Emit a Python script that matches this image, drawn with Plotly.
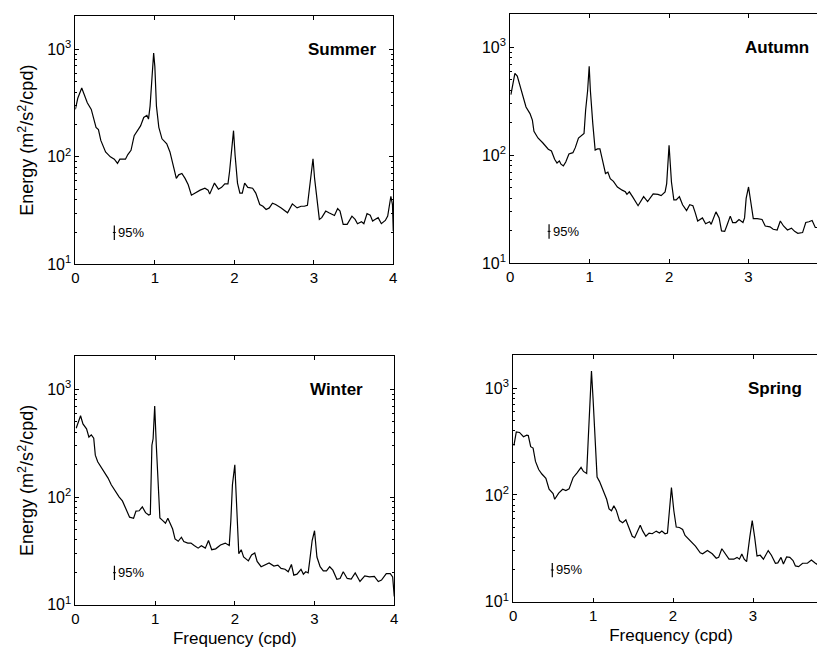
import plotly.graph_objects as go

# ---------------- data ----------------
summer_f = [0.00, 0.03, 0.08, 0.12, 0.15, 0.20, 0.26, 0.29, 0.32, 0.38,
            0.44, 0.49, 0.53, 0.56, 0.61, 0.63, 0.66, 0.70, 0.74, 0.78,
            0.82, 0.86, 0.90, 0.92, 0.94, 0.965, 0.985, 1.00, 1.02, 1.05,
            1.09, 1.15, 1.19, 1.24, 1.27, 1.30, 1.34, 1.38, 1.42, 1.46,
            1.50, 1.57, 1.63, 1.67, 1.69, 1.75, 1.80, 1.84, 1.88, 1.92,
            1.94, 1.96, 1.99, 2.01, 2.04, 2.07, 2.10, 2.13, 2.17, 2.23,
            2.27, 2.32, 2.36, 2.40, 2.44, 2.48, 2.52, 2.59, 2.63, 2.67,
            2.73, 2.76, 2.79, 2.84, 2.88, 2.92, 2.94, 2.96, 2.99, 3.01,
            3.04, 3.07, 3.10, 3.15, 3.19, 3.23, 3.26, 3.30, 3.33, 3.37,
            3.42, 3.48, 3.52, 3.55, 3.60, 3.63, 3.67, 3.71, 3.74, 3.77,
            3.81, 3.85, 3.90, 3.93, 3.95, 3.97, 3.99, 4.00]
summer_E = [276, 350, 436, 365, 318, 276, 188, 179, 142, 111,
            100, 95, 87, 95, 96, 95, 105, 115, 157, 175,
            194, 232, 243, 224, 296, 558, 920, 689, 296, 188,
            147, 132, 111, 78, 63, 68, 70, 63, 55, 44,
            46, 49, 51, 49, 45, 57, 50, 52, 56, 56,
            73, 111, 175, 103, 57, 46, 46, 57, 52, 51,
            46, 36, 34.7, 32.4, 33.5, 37, 36, 33.5, 31.9, 30.2,
            36.5, 34.7, 33.5, 34.7, 34.7, 35.5, 48, 63, 96, 63,
            39, 26.2, 27.2, 31.3, 30.2, 29.1, 28.5, 33, 31.3, 23.6,
            23.6, 28.1, 26.2, 23.9, 24.9, 23.9, 29.7, 28.7, 25.3, 26.2,
            27.2, 23.9, 25.6, 28.1, 36, 43, 36, 20.5]

autumn_f = [0.01, 0.06, 0.09, 0.145, 0.20, 0.25, 0.28, 0.30, 0.35, 0.41,
            0.48, 0.52, 0.56, 0.59, 0.62, 0.64, 0.67, 0.70, 0.74, 0.79,
            0.82, 0.86, 0.91, 0.93, 0.95, 0.975, 0.995, 1.01, 1.04, 1.07,
            1.10, 1.13, 1.16, 1.20, 1.23, 1.26, 1.30, 1.35, 1.41, 1.45,
            1.47, 1.50, 1.54, 1.61, 1.68, 1.73, 1.80, 1.86, 1.90, 1.95,
            1.97, 2.00, 2.03, 2.06, 2.09, 2.13, 2.17, 2.22, 2.26, 2.30,
            2.33, 2.36, 2.42, 2.46, 2.51, 2.53, 2.59, 2.63, 2.66, 2.70,
            2.73, 2.77, 2.80, 2.84, 2.88, 2.93, 2.95, 2.97, 3.00, 3.03,
            3.06, 3.11, 3.17, 3.21, 3.27, 3.31, 3.36, 3.40, 3.44, 3.49,
            3.54, 3.58, 3.62, 3.68, 3.72, 3.76, 3.80, 3.84, 3.89, 3.93,
            3.98, 4.00]
autumn_E = [365, 574, 543, 397, 281, 244, 212, 167, 145, 131,
            114, 110, 92, 85, 89, 83, 80, 87, 103, 106,
            118, 145, 156, 160, 262, 397, 668, 397, 198, 112,
            115, 115, 92, 68, 70, 61, 57.5, 51, 47.7, 46,
            43.6, 46, 41.5, 34.2, 41.5, 37.4, 44, 43.6, 42.4, 46,
            54.8, 124, 56.7, 38.7, 38.7, 41.5, 34.9, 30.8, 34.9, 34.2,
            29.4, 24.7, 26.4, 23.3, 24.3, 23, 30, 26.4, 20, 19.8,
            22.7, 27.4, 23.9, 23.9, 25.5, 23.9, 26.4, 40, 51, 34.9,
            26, 26, 25.5, 22.2, 21.8, 20.7, 20.4, 24.7, 22.2, 20.4,
            21.2, 19.8, 19, 19.3, 23.9, 24.3, 25, 21.5, 21.5, 22.7,
            23.9, 20]

winter_f = [0.01, 0.045, 0.065, 0.095, 0.14, 0.17, 0.20, 0.23, 0.25, 0.28,
            0.32, 0.37, 0.41, 0.45, 0.50, 0.55, 0.59, 0.64, 0.68, 0.73,
            0.76, 0.80, 0.84, 0.88, 0.92, 0.94, 0.96, 0.975, 0.995, 1.015,
            1.04, 1.06, 1.09, 1.13, 1.16, 1.19, 1.22, 1.25, 1.29, 1.33,
            1.36, 1.41, 1.45, 1.49, 1.54, 1.58, 1.63, 1.67, 1.71, 1.76,
            1.82, 1.88, 1.93, 1.95, 1.97, 2.00, 2.02, 2.05, 2.08, 2.11,
            2.17, 2.21, 2.25, 2.28, 2.33, 2.38, 2.43, 2.49, 2.54, 2.58,
            2.63, 2.67, 2.71, 2.74, 2.78, 2.83, 2.86, 2.89, 2.92, 2.94,
            2.97, 3.00, 3.03, 3.07, 3.11, 3.15, 3.19, 3.23, 3.28, 3.32,
            3.36, 3.41, 3.46, 3.51, 3.57, 3.63, 3.69, 3.75, 3.80, 3.84,
            3.90, 3.95, 3.98, 4.00]
winter_E = [436, 531, 570, 478, 430, 361, 379, 353, 245, 213,
            192, 166, 150, 130, 113, 100, 92, 77, 65, 63.5,
            74, 74.5, 81, 71.6, 68, 69, 303, 348, 703, 303,
            121, 64, 61, 57, 63.5, 56, 50.4, 40.8, 38.8, 42.3,
            38.6, 37.3, 37.3, 35.5, 33.5, 35.3, 33.5, 39.4, 32.4, 33,
            35.8, 37.3, 35.5, 60, 130, 199, 79.6, 29.7, 32.4, 27.7,
            25.5, 29, 30.2, 25.2, 22.5, 23.3, 24.4, 22.8, 23.3, 21.7,
            21.3, 20.2, 23.6, 18.8, 19.2, 21.3, 19.2, 20.2, 19.7, 25.8,
            39.4, 48.6, 27.7, 22.5, 20.6, 20.6, 22.5, 20.9, 17.2, 17.5,
            20.2, 17.5, 17.3, 19.7, 16.4, 18.5, 18.1, 18.3, 16.4, 16.9,
            19.4, 19.4, 18.1, 11.9]

spring_f = [0.01, 0.04, 0.08, 0.13, 0.17, 0.19, 0.22, 0.25, 0.28, 0.32,
            0.36, 0.41, 0.45, 0.50, 0.52, 0.57, 0.62, 0.66, 0.70, 0.75,
            0.80, 0.85, 0.88, 0.92, 0.94, 0.96, 0.98, 1.00, 1.03, 1.05,
            1.08, 1.12, 1.17, 1.20, 1.23, 1.26, 1.29, 1.33, 1.37, 1.41,
            1.45, 1.49, 1.52, 1.55, 1.59, 1.62, 1.66, 1.70, 1.74, 1.79,
            1.83, 1.86, 1.90, 1.93, 1.95, 1.98, 2.01, 2.04, 2.08, 2.12,
            2.15, 2.21, 2.28, 2.34, 2.37, 2.43, 2.49, 2.54, 2.57, 2.61,
            2.65, 2.70, 2.76, 2.80, 2.83, 2.86, 2.89, 2.92, 2.96, 2.99,
            3.02, 3.05, 3.09, 3.13, 3.19, 3.23, 3.28, 3.31, 3.35, 3.38,
            3.42, 3.46, 3.50, 3.53, 3.57, 3.62, 3.68, 3.73, 3.78, 3.83,
            3.87, 3.91, 3.94, 3.97]
spring_E = [290, 390, 385, 351, 363, 360, 283, 275, 206, 173,
            157, 143, 113, 103, 91, 104, 113, 110, 114, 145,
            161, 181, 166, 159, 338, 687, 1445, 792, 275, 147,
            134, 113, 91, 74, 71, 79, 72, 57.5, 55, 58.5,
            48.2, 41, 39.7, 44.9, 52, 46, 41, 43.9, 43.3, 45.8,
            43.9, 45.8, 43.3, 43.9, 66.4, 117, 71, 50, 49.5, 47.5,
            41.8, 37.6, 33.1, 28.7, 28.1, 30.1, 28.1, 25.5, 26, 31.3,
            28.1, 25, 25, 26, 25, 27.9, 25, 23.7, 40.4, 57.5,
            40.4, 26.8, 27.2, 25, 30.1, 27.2, 22.9, 23.1, 26, 22.5,
            26.2, 26, 24.3, 21.6, 21.3, 22.9, 22.9, 24.5, 22.9, 21.6,
            23.7, 24.3, 32.7, 34]

seasons = ["Summer", "Autumn", "Winter", "Spring"]
ci_freq = 0.49
ci_lower = 16.9
ci_upper = 23.0
ci_mid = 19.8
ci_label = "95%"

x_tick_vals = [0, 1, 2, 3, 4]
y_tick_vals = [10, 100, 1000]
y_tick_text = ["10<sup>1</sup>", "10<sup>2</sup>", "10<sup>3</sup>"]
y_minor_vals = [20, 30, 40, 50, 60, 70, 80, 90,
                200, 300, 400, 500, 600, 700, 800, 900, 2000]

# ---------------- layout geometry ----------------
W, H = 825, 649
FONT = "Liberation Sans, Arial, Helvetica, sans-serif"

panels = [
    # name, f, E, x-domain px, y-domain px (top, bottom), xrange max, label x, ylabel?, xlabel?
    (seasons[0], summer_f, summer_E, (64, 385), (8, 260), 4.0, 3.81, True, False),
    (seasons[1], autumn_f, autumn_E, (503, 824), (6, 259), 4.0, 3.78, False, False),
    (seasons[2], winter_f, winter_E, (64, 386), (353, 605), 4.0, 3.63, True, True),
    (seasons[3], spring_f, spring_E, (506, 825), (352, 602), 3.95, 3.64, False, True),
]

fig = go.Figure()
layout = dict(
    width=W, height=H,
    margin=dict(l=0, r=0, t=0, b=0),
    paper_bgcolor="white", plot_bgcolor="white",
    showlegend=False,
    font=dict(family=FONT, color="black", size=15),
    annotations=[],
)

for i, (name, fx, fy, xd, yd, xmax, labx, ylab, xlab) in enumerate(panels):
    n = "" if i == 0 else str(i + 1)
    xa, ya = "x" + n, "y" + n
    fig.add_trace(go.Scatter(x=fx, y=fy, mode="lines",
                             line=dict(color="black", width=1.2),
                             xaxis=xa, yaxis=ya, hoverinfo="skip"))
    # confidence interval marker
    fig.add_trace(go.Scatter(x=[ci_freq, ci_freq], y=[ci_lower, ci_upper], mode="lines",
                             line=dict(color="black", width=1.2),
                             xaxis=xa, yaxis=ya, hoverinfo="skip"))
    fig.add_trace(go.Scatter(x=[ci_freq - 0.018, ci_freq + 0.018], y=[ci_mid, ci_mid], mode="lines",
                             line=dict(color="black", width=1),
                             xaxis=xa, yaxis=ya, hoverinfo="skip"))
    layout["annotations"].append(dict(
        x=ci_freq + 0.02, y=1.2967, xref=xa, yref=ya, text=ci_label,
        showarrow=False, xanchor="left", yanchor="middle",
        font=dict(family=FONT, size=13)))
    layout["annotations"].append(dict(
        x=labx, y=3, xref=xa, yref=ya, text="<b>" + name + "</b>",
        showarrow=False, xanchor="right", yanchor="middle",
        font=dict(family=FONT, size=17)))

    layout["xaxis" + n] = dict(
        domain=[xd[0] / W, min(xd[1] / W, 1.0)], anchor=ya,
        range=[0, xmax], tickvals=x_tick_vals,
        ticks="inside", ticklen=4, tickcolor="black",
        showline=True, linecolor="black", linewidth=1, mirror="ticks",
        showgrid=False, zeroline=False,
        tickfont=dict(family=FONT, size=15),
        title=dict(text="Frequency (cpd)" if xlab else "", font=dict(family=FONT, size=17), standoff=6),
    )
    layout["yaxis" + n] = dict(
        domain=[1 - yd[1] / H, 1 - yd[0] / H], anchor=xa,
        type="log", range=[1, 3.31],
        tickvals=y_tick_vals, ticktext=y_tick_text,
        ticks="inside", ticklen=4, tickcolor="black",
        minor=dict(tickvals=y_minor_vals, ticks="inside", ticklen=2, tickcolor="black"),
        showline=True, linecolor="black", linewidth=1, mirror="ticks",
        showgrid=False, zeroline=False,
        tickfont=dict(family=FONT, size=16),
        title=dict(text="Energy (m<sup>2</sup>/s<sup>2</sup>/cpd)" if ylab else "",
                   font=dict(family=FONT, size=18), standoff=8),
    )

fig.update_layout(**layout)
fig.write_html("out.html")
